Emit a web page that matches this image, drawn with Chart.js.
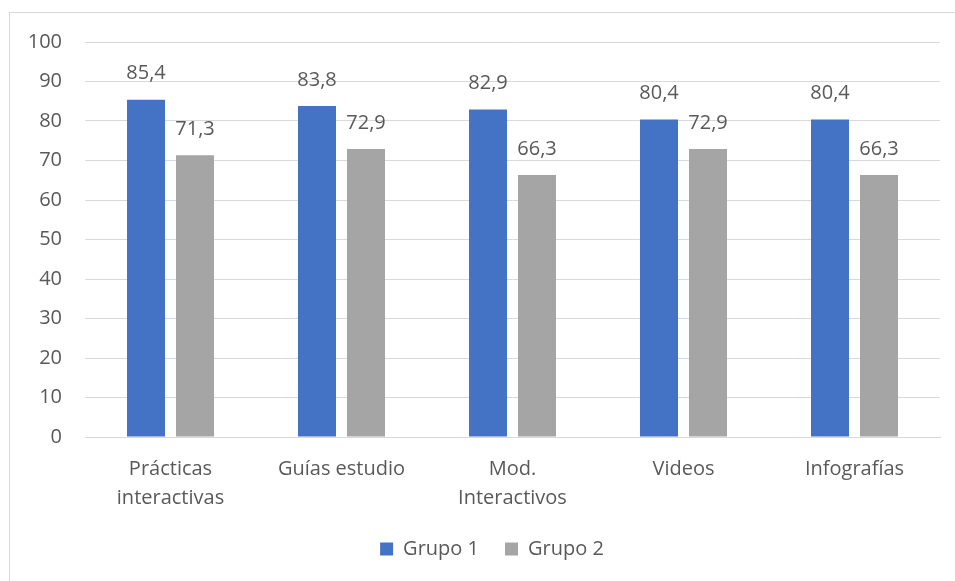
<!DOCTYPE html>
<html>
<head>
<meta charset="utf-8">
<script src="https://cdn.jsdelivr.net/npm/chart.js@4"></script>
<style>
  html, body { margin: 0; padding: 0; background: #fff; }
  #wrap { position: absolute; left: 0; top: 0; width: 955px; height: 581px; }
  #frame { position: absolute; left: 9px; top: 12px; width: 960px; height: 600px; border: 1px solid #d9d9d9; box-sizing: border-box; }
</style>
</head>
<body>
<div id="frame"></div>
<div id="wrap"><canvas id="graf" width="955" height="581"></canvas></div>
<script>
const categorias = [
  ["Prácticas", "interactivas"],
  "Guías estudio",
  ["Mod.", "Interactivos"],
  "Videos",
  "Infografías"
];

const grupo1 = [85.4, 83.8, 82.9, 80.4, 80.4];
const grupo2 = [71.3, 72.9, 66.3, 72.9, 66.3];

const fuente = "'Open Sans', 'Liberation Sans', sans-serif";
const gris = "#595959";

// etiquetas de valor encima de cada barra (coma decimal)
const etiquetas = {
  id: "etiquetas",
  afterLayout(chart) {
    // la leyenda va centrada sobre el marco, no sobre el canvas
    const lg = chart.legend;
    const dx = 492 - (lg.left + lg.right) / 2;
    lg.left += dx;
    lg.right += dx;
  },
  afterDatasetsDraw(chart) {
    const c = chart.ctx;
    c.save();
    c.font = "20px " + fuente;
    c.fillStyle = gris;
    c.textAlign = "center";
    c.textBaseline = "middle";
    chart.data.datasets.forEach((ds, i) => {
      chart.getDatasetMeta(i).data.forEach((bar, j) => {
        const txt = ds.data[j].toFixed(1).replace(".", ",");
        c.fillText(txt, bar.x, bar.y - 26);
      });
    });
    c.restore();
  }
};

Chart.defaults.font.family = fuente;
Chart.defaults.font.size = 20;
Chart.defaults.color = gris;

new Chart(document.getElementById("graf"), {
  type: "bar",
  data: {
    labels: categorias,
    datasets: [
      {
        label: "Grupo 1",
        data: grupo1,
        backgroundColor: "#4472c4",
        categoryPercentage: 0.573,
        barPercentage: 0.776
      },
      {
        label: "Grupo 2",
        data: grupo2,
        backgroundColor: "#a5a5a5",
        categoryPercentage: 0.573,
        barPercentage: 0.776
      }
    ]
  },
  options: {
    responsive: false,
    animation: false,
    layout: { padding: { left: 0, top: 42, right: 15, bottom: 12 } },
    plugins: {
      legend: {
        position: "bottom",
        labels: { boxWidth: 13, boxHeight: 13, padding: 26, font: { size: 20 } }
      },
      tooltip: { enabled: false }
    },
    scales: {
      x: {
        grid: { display: false, drawTicks: false },
        border: { color: "#d9d9d9" },
        ticks: { padding: 18, maxRotation: 0, autoSkip: false, font: { size: 20, lineHeight: 1.45 } },
        afterFit(s) { s.height = 76; }
      },
      y: {
        min: 0,
        max: 100,
        grid: { color: "#d9d9d9", drawTicks: false },
        border: { display: false },
        ticks: { stepSize: 10, padding: 23 },
        afterFit(s) { s.width = 85; }
      }
    }
  },
  plugins: [etiquetas]
});
</script>
</body>
</html>
